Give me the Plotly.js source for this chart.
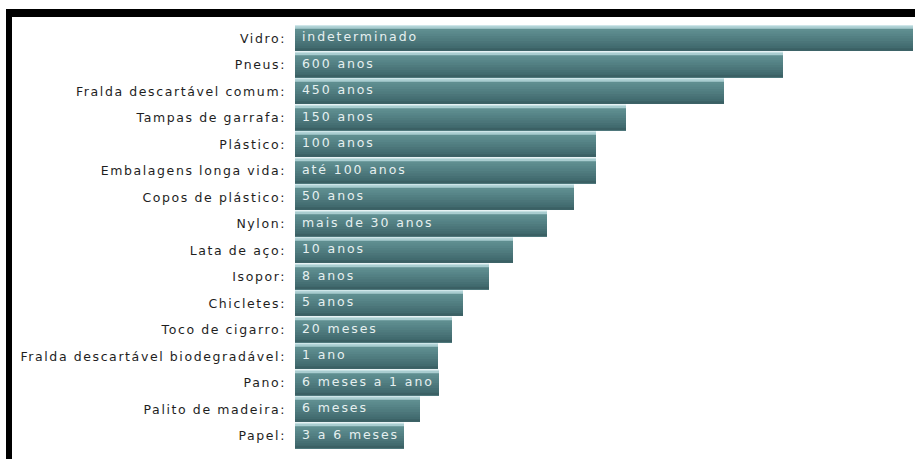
<!DOCTYPE html>
<html>
<head>
<meta charset="utf-8">
<script src="https://cdn.plot.ly/plotly-3.0.1.min.js"></script>
<style>
  html, body { margin: 0; padding: 0; background: #ffffff; }
  #frame { position: absolute; left: 6px; top: 9px; width: 909px; height: 450px;
           border-top: 8px solid #000; border-left: 6px solid #000; box-sizing: border-box; }
  #chart { position: absolute; left: 0; top: 0; width: 915px; height: 459px; }
  #chart .ytick text { letter-spacing: 1.6px; }
  #chart .textpoint text { letter-spacing: 1.9px; translate: 7px 0; }
</style>
</head>
<body>
<div id="frame"></div>
<div id="chart"></div>
<script>
// Materials (top to bottom)
const categories = [
  "Vidro", "Pneus", "Fralda descartável comum", "Tampas de garrafa", "Plástico",
  "Embalagens longa vida", "Copos de plástico", "Nylon", "Lata de aço", "Isopor",
  "Chicletes", "Toco de cigarro", "Fralda descartável biodegradável", "Pano",
  "Palito de madeira", "Papel"
];
// Bar lengths as drawn (relative units)
const barLengths = [618, 488, 429, 331, 301, 301, 279, 252, 218, 194, 168, 157, 143, 144, 125, 109];
// Decomposition time labels shown inside bars
const timeLabels = [
  "indeterminado", "600 anos", "450 anos", "150 anos", "100 anos",
  "até 100 anos", "50 anos", "mais de 30 anos", "10 anos", "8 anos",
  "5 anos", "20 meses", "1 ano", "6 meses a 1 ano", "6 meses", "3 a 6 meses"
];

(function () {
  const traces = [];
  // light cyan backing (visible as thin lines between bars)
  traces.push({
    type: "bar", orientation: "h", x: barLengths, y: categories,
    width: 0.98, offset: -0.5,
    marker: { color: "#cfe6e9", line: { width: 0 } },
    hoverinfo: "skip", showlegend: false
  });
  // gradient bands (light top to dark bottom), each band runs to the bar bottom
  const bandColors = ["#a9cdd0", "#5f8e90", "#5b8a8c", "#578588", "#538083",
                      "#4f7b7e", "#4b7579", "#467074", "#426b6f", "#3b6064"];
  const barTop = -0.45, barBottom = 0.47;
  const n = bandColors.length;
  const bh = (barBottom - barTop) / n;
  for (let i = 0; i < n; i++) {
    const off = barTop + i * bh;
    traces.push({
      type: "bar", orientation: "h", x: barLengths, y: categories,
      width: barBottom - off, offset: off,
      marker: { color: bandColors[i], line: { width: 0 } },
      hoverinfo: "skip", showlegend: false
    });
  }
  // labels inside the bars, anchored at the bar base
  traces.push({
    type: "scatter", mode: "text", x: categories.map(() => 0), y: categories,
    text: timeLabels, textposition: "middle right", cliponaxis: false,
    textfont: { family: "DejaVu Sans", size: 12.5, color: "#e6f0f0" },
    hoverinfo: "skip", showlegend: false
  });

  const layout = {
    width: 915, height: 459,
    margin: { l: 295, r: 2, t: 25, b: 10, pad: 0 },
    paper_bgcolor: "rgba(0,0,0,0)", plot_bgcolor: "rgba(0,0,0,0)",
    barmode: "overlay", showlegend: false,
    xaxis: { range: [0, 618], visible: false, fixedrange: true },
    yaxis: {
      type: "category", range: [categories.length - 0.5, -0.5], autorange: false,
      ticks: "", showgrid: false, zeroline: false, showline: false,
      ticksuffix: ":", ticklabelstandoff: 8, fixedrange: true,
      tickfont: { family: "DejaVu Sans", size: 12.5, color: "#1e1e1e" }
    }
  };

  Plotly.newPlot("chart", traces, layout, { displayModeBar: false, staticPlot: true });
})();
</script>
</body>
</html>
